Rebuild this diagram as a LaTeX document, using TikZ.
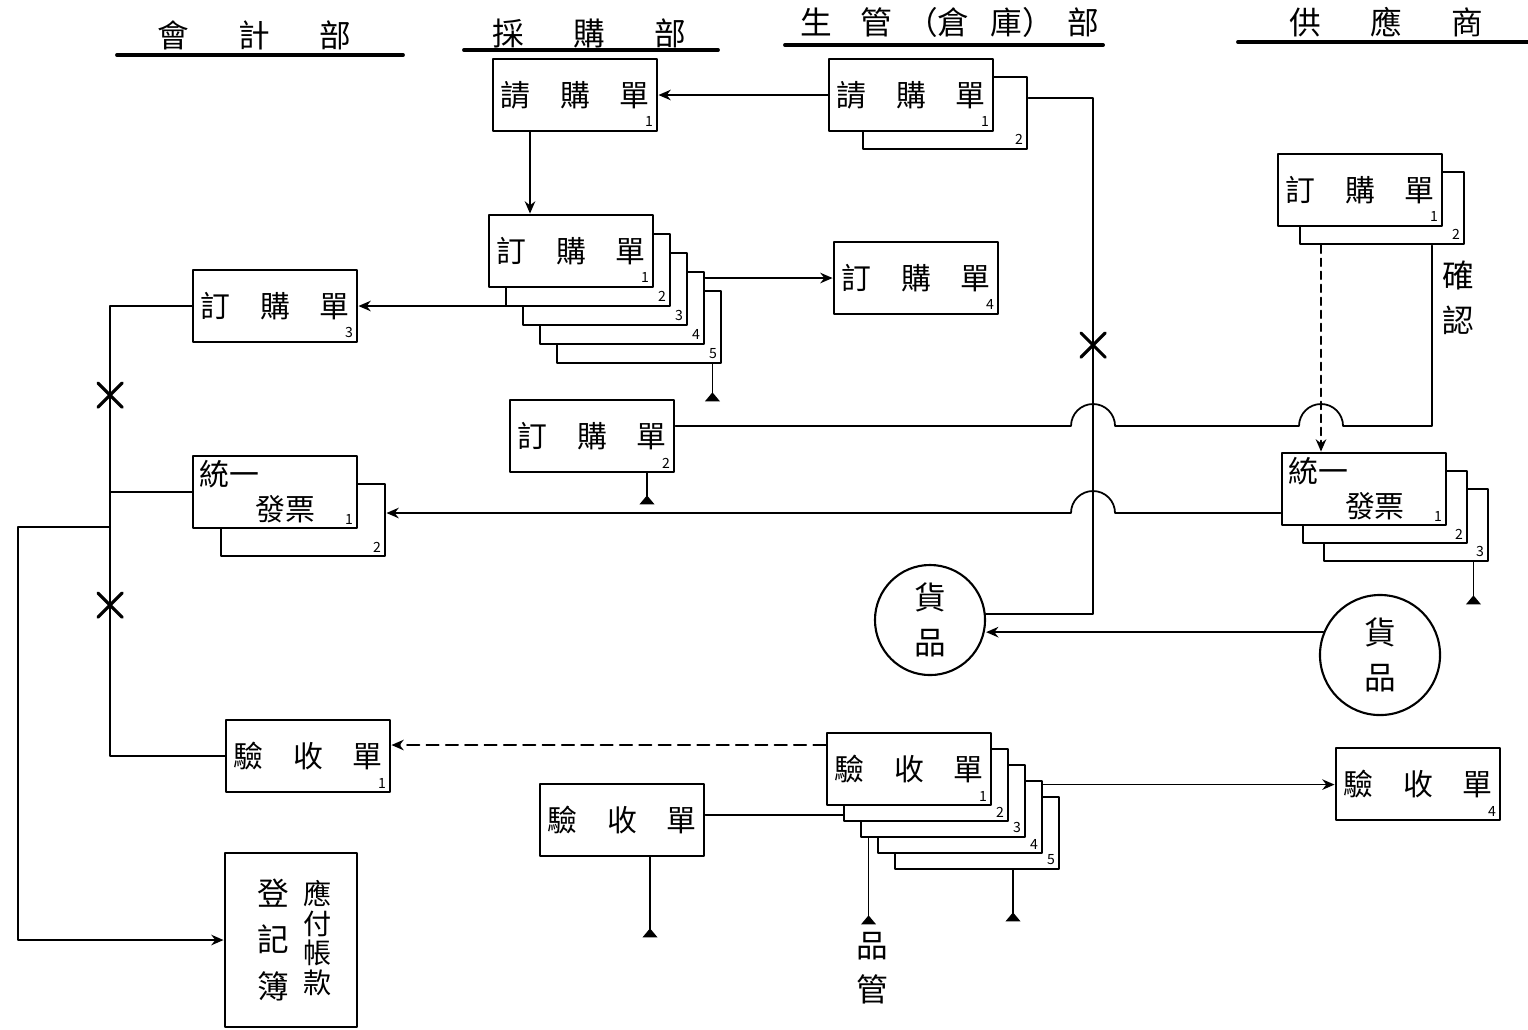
\documentclass[tikz,border=0pt]{standalone}
\usepackage{fontspec}
\setmainfont{Noto Sans CJK TC}
\usetikzlibrary{calc,arrows.meta,shapes.misc}

\tikzset{
  doc/.style={draw, line width=0.8pt, fill=white, minimum width=1.64cm, minimum height=0.72cm, inner sep=0pt, font=\fontsize{8.5}{10}\selectfont},
  num/.style={font=\fontsize{4}{4}\selectfont, inner sep=1.3pt},
  nb/.style={label={[num,anchor=south east]south east:#1}},
  hdr/.style={font=\fontsize{9}{10}\selectfont, inner sep=0pt},
  uline/.style={line width=1.1pt},
  xmark/.style={draw, cross out, line width=0.9pt, minimum size=6pt, inner sep=0pt},
  goods/.style={draw, circle, line width=0.6pt, inner sep=0pt, align=center, font=\fontsize{9}{12.7}\selectfont},
  vtext/.style={inner sep=0pt, align=center, font=\fontsize{9}{12.7}\selectfont},
  tofile/.style={-{Triangle[reversed, length=2.6pt, width=4.2pt]}},
}

\begin{document}
\begin{tikzpicture}[x=0.01cm, y=-0.01cm, line width=0.5pt, line join=round, line cap=round, >={Stealth[length=3.5pt,width=3pt]}]
\useasboundingbox (0,0) rectangle (1528,1029);

% departments
\node[hdr] (hAcc) at (254,35) {會\hspace{14pt}計\hspace{14pt}部};
\node[hdr] (hPur) at (589,33) {採\hspace{14pt}購\hspace{14pt}部};
\node[hdr] (hPrd) at (950,22) {生\hspace{8pt}管\hspace{4pt}（倉\hspace{6pt}庫）\hspace{4pt}部};
\node[hdr] (hSup) at (1386,22) {供\hspace{14pt}應\hspace{14pt}商};
\draw[uline] ($(hAcc)+(-137,20)$) -- ++(286,0);
\draw[uline] ($(hPur)+(-125,17)$) -- ++(254,0);
\draw[uline] ($(hPrd)+(-165,23)$) -- ++(318,0);
\draw[uline] ($(hSup)+(-148,20)$) -- ++(290,0);

% requisitions
\node[doc, nb=1] (pr1) at (575,95) {請\quad 購\quad 單};
\node[doc, nb=2] (reqB) at (945,113) {};
\node[doc, nb=1] (reqF) at (911,95) {請\quad 購\quad 單};

% purchase order, five copies
\node[doc, nb=5] (po5) at (639,327) {};
\node[doc, nb=4] (po4) at (622,308) {};
\node[doc, nb=3] (po3) at (605,289) {};
\node[doc, nb=2] (po2) at (588,270) {};
\node[doc, nb=1] (po1) at (571,251) {訂\quad 購\quad 單};
\node[doc, nb=3] (poA) at (275,306) {訂\quad 購\quad 單};
\node[doc, nb=4] (poG) at (916,278) {訂\quad 購\quad 單};
\node[doc, nb=2] (poB) at (592,436) {訂\quad 購\quad 單};
\node[doc, nb=2] (poS2) at (1382,208) {};
\node[doc, nb=1] (poS1) at (1360,190) {訂\quad 購\quad 單};
\node[vtext] (confirm) at (1458,298) {確\\認};

% invoices
\node[doc, nb=2] (invA2) at (303,520) {};
\node[doc, nb=1, text width=1.5cm, align=left] (invA1) at (275,492) {統一\\\hspace*{0.56cm}發票};
\node[doc, nb=3] (invS3) at (1406,525) {};
\node[doc, nb=2] (invS2) at (1385,507) {};
\node[doc, nb=1, text width=1.5cm, align=left] (invS1) at (1364,489) {統一\\\hspace*{0.56cm}發票};

% goods
\node[goods, minimum size=1.1cm] (goodsL) at (930,620) {貨\\品};
\node[goods, minimum size=1.2cm] (goodsR) at (1380,655) {貨\\品};

% receiving reports
\node[doc, nb=1] (grA) at (308,756) {驗\quad 收\quad 單};
\node[doc, nb=5] (gr5) at (977,833) {};
\node[doc, nb=4] (gr4) at (960,817) {};
\node[doc, nb=3] (gr3) at (943,801) {};
\node[doc, nb=2] (gr2) at (926,785) {};
\node[doc, nb=1] (gr1) at (909,769) {驗\quad 收\quad 單};
\node[doc] (grB) at (622,820) {驗\quad 收\quad 單};
\node[doc, nb=4] (grS) at (1418,784) {驗\quad 收\quad 單};
\node[vtext] (qc) at (872,968) {品\\管};

% payables register
\node[doc, minimum width=1.32cm, minimum height=1.74cm] (reg) at (291,940) {};
\node[inner sep=0pt, align=center, font=\fontsize{9}{13.3}\selectfont] (regL) at (273,940) {登\\記\\簿};
\node[inner sep=0pt, align=center, font=\fontsize{8}{8.4}\selectfont] (regR) at (318,938) {應\\付\\帳\\款};

% line positions
\coordinate (vx) at (1093,0);
\coordinate (lx) at (110,0);
\coordinate (rx) at (18,0);

% purchasing flow
\draw[->] (reqF.west) -- (pr1.east);
\draw[->] ($(pr1.south)+(-45,0)$) -- ($(po1.north)+(-41,0)$);
\draw[->] (po4.east |- poG.west) -- (poG.west);
\draw[->] (po3.west |- poA.east) -- (poA.east);
\draw[tofile] ($(po5.south east)+(-10,0)$) -- ++(0,37);
\draw[tofile] ($(poB.south)+(55,0)$) -- ++(0,31);

% requisition copy to goods
\draw ($(reqB.east)+(0,-15)$) -| (vx |- goodsL.6) -- (goodsL.6);
\node[xmark] (xR) at (1093,345) {};

% confirmation back to purchasing
\coordinate (cfTop) at ($(poS2.south)+(50,0)$);
\coordinate (dTop) at ($(poS2.south)+(-61,0)$);
\coordinate (poBr) at ($(poB.east)+(0,-10)$);
\draw (poBr) -- ($(poBr -| vx)+(-22,0)$) arc[start angle=180, end angle=0, radius=0.22cm]
  -- ($(poBr -| dTop)+(-22,0)$) arc[start angle=180, end angle=0, radius=0.22cm]
  -- (poBr -| cfTop) -- (cfTop);
\draw[->, dash pattern=on 2.2pt off 1.5pt] (dTop) -- (dTop |- invS1.north);

% invoice to accounting
\coordinate (invOut) at ($(invS1.west)+(0,24)$);
\draw[->] (invOut) -- ($(invOut -| vx)+(22,0)$) arc[start angle=0, end angle=180, radius=0.22cm] -- (invOut -| invA2.east);
\draw[tofile] ($(invS3.south east)+(-16,0)$) -- ++(0,42);

% goods delivered
\draw[->] (goodsR.158) -- (goodsR.158 -| goodsL.east);

% receiving
\coordinate (grOut) at ($(gr1.west)+(0,-24)$);
\draw[->, dash pattern=on 3.5pt off 2pt] (grOut) -- (grOut -| grA.east);
\coordinate (grR) at ($(gr4.north east)+(0,5)$);
\draw[->] (grR) -- (grR -| grS.west);
\coordinate (grBr) at ($(grB.east)+(0,-5)$);
\draw (grBr) -- (grBr -| gr2.west);
\draw[tofile] ($(grB.south)+(28,0)$) -- ++(0,80);
\draw[tofile] ($(gr3.south west)+(9,0)$) -- ++(0,86);
\draw[tofile] ($(gr5.south)+(36,0)$) -- ++(0,51);

% matching in accounting
\draw (poA.west) -| (lx |- grA.west) -- (grA.west);
\draw (lx |- invA1.west) -- (invA1.west);
\coordinate (jn) at (110,527);
\draw[->] (jn) -- (jn -| rx) |- (reg.west);
\node[xmark] (xA) at (110,395) {};
\node[xmark] (xB) at (110,605) {};
\end{tikzpicture}
\end{document}
